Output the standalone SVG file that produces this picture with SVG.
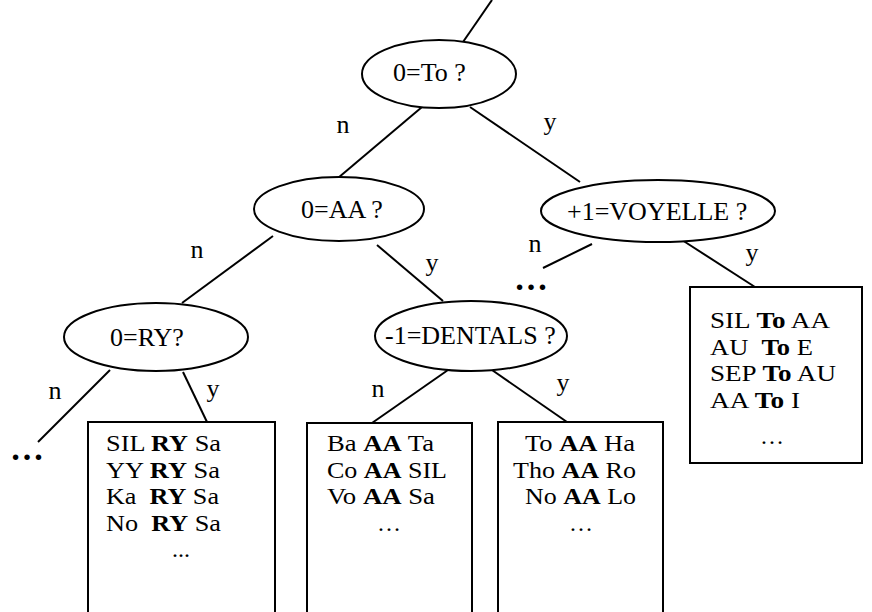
<svg xmlns="http://www.w3.org/2000/svg" width="872" height="612" viewBox="0 0 872 612" font-family="'Liberation Serif',serif">
<style>
.t{font-family:'Liberation Serif','Times New Roman',serif;font-size:26px;fill:#000}
.bx{font-family:'Liberation Serif','Times New Roman',serif;font-size:24px;fill:#000}
.b{font-weight:bold}
.dots{font-family:'Liberation Serif','Times New Roman',serif;font-size:34px;font-weight:bold;fill:#000}
.c line{stroke:#000;stroke-width:2}
.e{fill:#fff;stroke:#000;stroke-width:2}
.box{fill:#fff;stroke:#000;stroke-width:2}
</style>
<rect x="0" y="0" width="872" height="612" fill="#fff"/>
<g id="connectors" class="c">
<line x1="492" y1="0" x2="463" y2="42"/>
<line x1="422" y1="107" x2="338" y2="178"/>
<line x1="470" y1="107" x2="580" y2="182"/>
<line x1="273" y1="236" x2="182" y2="303"/>
<line x1="377" y1="245" x2="443" y2="301"/>
<line x1="592" y1="244" x2="543" y2="268"/>
<line x1="682" y1="240" x2="755" y2="287"/>
<line x1="110" y1="370" x2="38" y2="442"/>
<line x1="183" y1="372" x2="207" y2="422"/>
<line x1="448" y1="370" x2="372" y2="423"/>
<line x1="492" y1="370" x2="567" y2="422"/>
</g>
<g id="labels">
<text class="t" x="343" y="133" text-anchor="middle">n</text>
<text class="t" x="550" y="130" text-anchor="middle">y</text>
<text class="t" x="197" y="258" text-anchor="middle">n</text>
<text class="t" x="432" y="271" text-anchor="middle">y</text>
<text class="t" x="535" y="252" text-anchor="middle">n</text>
<text class="t" x="752" y="261" text-anchor="middle">y</text>
<text class="t" x="55" y="399" text-anchor="middle">n</text>
<text class="t" x="213" y="397" text-anchor="middle">y</text>
<text class="t" x="378" y="397" text-anchor="middle">n</text>
<text class="t" x="563" y="391" text-anchor="middle">y</text>
<text class="dots" x="531" y="290" text-anchor="middle">…</text>
<text class="dots" x="27" y="460" text-anchor="middle">…</text>
</g>
<g id="n-root">
<ellipse class="e" cx="439" cy="74" rx="77" ry="34"/>
<text class="t" x="393" y="81">0=To ?</text>
</g>
<g id="n-aa">
<ellipse class="e" cx="339" cy="209" rx="85" ry="32"/>
<text class="t" x="301" y="218">0=AA ?</text>
</g>
<g id="n-voyelle">
<ellipse class="e" cx="658" cy="211" rx="117" ry="31"/>
<text class="t" x="567" y="220">+1=VOYELLE ?</text>
</g>
<g id="n-ry">
<ellipse class="e" cx="156" cy="337" rx="92" ry="34"/>
<text class="t" x="110" y="346">0=RY?</text>
</g>
<g id="n-dentals">
<ellipse class="e" cx="471" cy="336" rx="96" ry="35"/>
<text class="t" x="385" y="344">-1=DENTALS ?</text>
</g>
<g id="box-ry">
<rect class="box" x="88" y="422" width="187" height="210"/>
<text class="bx" x="106" y="451" xml:space="preserve" textLength="115" lengthAdjust="spacingAndGlyphs">SIL <tspan class="b">RY</tspan> Sa</text>
<text class="bx" x="106" y="477.6" xml:space="preserve" textLength="114" lengthAdjust="spacingAndGlyphs">YY <tspan class="b">RY</tspan> Sa</text>
<text class="bx" x="106" y="504.2" xml:space="preserve" textLength="113" lengthAdjust="spacingAndGlyphs">Ka  <tspan class="b">RY</tspan> Sa</text>
<text class="bx" x="106" y="530.8" xml:space="preserve" textLength="115" lengthAdjust="spacingAndGlyphs">No  <tspan class="b">RY</tspan> Sa</text>
<text class="bx" x="181" y="557.4" text-anchor="middle">...</text>
</g>
<g id="box-dent-n">
<rect class="box" x="307" y="423" width="165" height="210"/>
<text class="bx" x="327" y="451" xml:space="preserve" textLength="107" lengthAdjust="spacingAndGlyphs">Ba <tspan class="b">AA</tspan> Ta</text>
<text class="bx" x="327" y="477.6" xml:space="preserve" textLength="120" lengthAdjust="spacingAndGlyphs">Co <tspan class="b">AA</tspan> SIL</text>
<text class="bx" x="327" y="504.2" xml:space="preserve" textLength="108" lengthAdjust="spacingAndGlyphs">Vo <tspan class="b">AA</tspan> Sa</text>
<text class="bx" x="389" y="530.8" text-anchor="middle">…</text>
</g>
<g id="box-dent-y">
<rect class="box" x="498" y="422" width="165" height="210"/>
<text class="bx" x="525" y="451" xml:space="preserve" textLength="110" lengthAdjust="spacingAndGlyphs">To <tspan class="b">AA</tspan> Ha</text>
<text class="bx" x="513" y="477.6" xml:space="preserve" textLength="123" lengthAdjust="spacingAndGlyphs">Tho <tspan class="b">AA</tspan> Ro</text>
<text class="bx" x="525" y="504.2" xml:space="preserve" textLength="111" lengthAdjust="spacingAndGlyphs">No <tspan class="b">AA</tspan> Lo</text>
<text class="bx" x="581" y="530.8" text-anchor="middle">…</text>
</g>
<g id="box-voyelle">
<rect class="box" x="690" y="287" width="172" height="176"/>
<text class="bx" x="710" y="328" xml:space="preserve" textLength="120" lengthAdjust="spacingAndGlyphs">SIL <tspan class="b">To</tspan> AA</text>
<text class="bx" x="710" y="354.6" xml:space="preserve" textLength="103" lengthAdjust="spacingAndGlyphs">AU  <tspan class="b">To</tspan> E</text>
<text class="bx" x="710" y="381.2" xml:space="preserve" textLength="126" lengthAdjust="spacingAndGlyphs">SEP <tspan class="b">To</tspan> AU</text>
<text class="bx" x="710" y="407.8" xml:space="preserve" textLength="90" lengthAdjust="spacingAndGlyphs">AA <tspan class="b">To</tspan> I</text>
<text class="bx" x="772" y="444" text-anchor="middle">…</text>
</g>
</svg>
